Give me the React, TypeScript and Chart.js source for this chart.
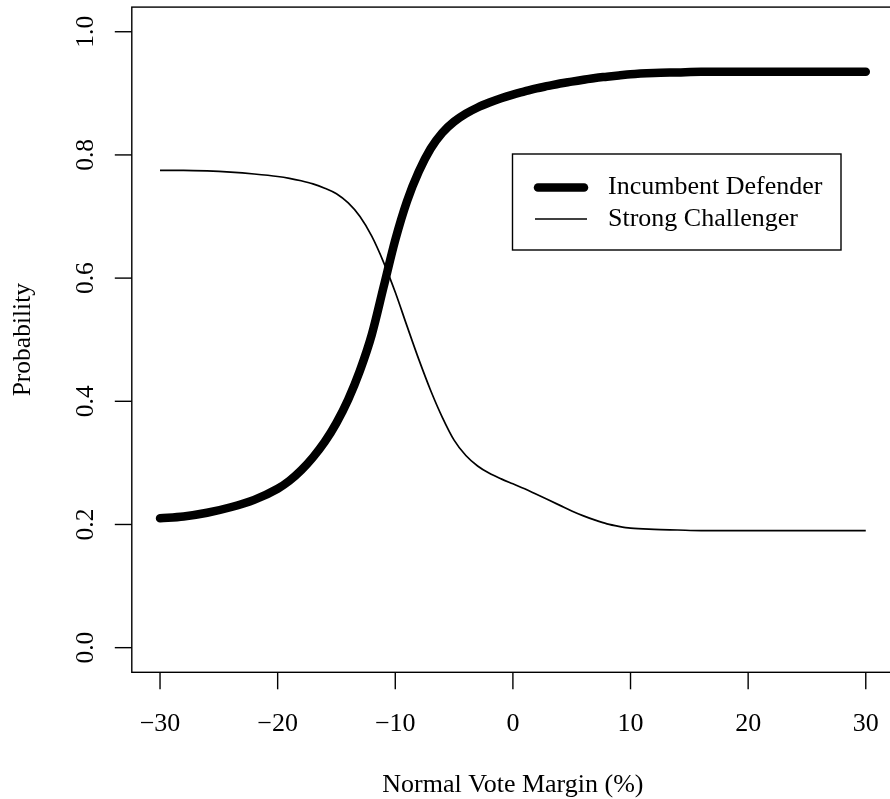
import React, { useEffect, useRef } from "react";
import { Chart, registerables } from "chart.js";

Chart.register(...registerables);

const margins = [-30, -28, -26, -24, -22, -20, -19, -18, -17, -16, -15, -14, -13, -12, -11, -10, -9, -8, -7, -6, -5, -4, -3, -2, -1, 0, 1, 2, 3, 4, 5, 6, 7, 8, 9, 10, 12, 14, 16, 20, 25, 30];

const incumbentDefender = [0.210, 0.213, 0.219, 0.228, 0.240, 0.258, 0.271, 0.288, 0.309, 0.334, 0.365, 0.403, 0.450, 0.508, 0.585, 0.662, 0.725, 0.773, 0.810, 0.836, 0.854, 0.867, 0.877, 0.885, 0.892, 0.898, 0.903, 0.908, 0.912, 0.916, 0.919, 0.922, 0.925, 0.927, 0.929, 0.931, 0.933, 0.934, 0.935, 0.935, 0.935, 0.935];

const strongChallenger = [0.775, 0.775, 0.774, 0.772, 0.769, 0.765, 0.762, 0.758, 0.753, 0.746, 0.737, 0.722, 0.700, 0.668, 0.626, 0.577, 0.522, 0.468, 0.418, 0.374, 0.337, 0.312, 0.295, 0.283, 0.274, 0.266, 0.258, 0.249, 0.240, 0.231, 0.222, 0.214, 0.207, 0.201, 0.197, 0.194, 0.192, 0.191, 0.190, 0.190, 0.190, 0.190];

const xTicks = [-30, -20, -10, 0, 10, 20, 30];
const xTickLabels = ["\u221230", "\u221220", "\u221210", "0", "10", "20", "30"];
const yTicks = [0, 0.2, 0.4, 0.6, 0.8, 1.0];
const yTickLabels = ["0.0", "0.2", "0.4", "0.6", "0.8", "1.0"];

const seriesNames = ["Incumbent Defender", "Strong Challenger"];
const xTitle = "Normal Vote Margin (%)";
const yTitle = "Probability";

const FONT = "25.5px 'Liberation Serif', 'DejaVu Serif', serif";
const SX = 1.02;

function stretchedText(ctx: CanvasRenderingContext2D, text: string, x: number, y: number, rotate: boolean) {
  ctx.save();
  ctx.translate(x, y);
  ctx.scale(SX, 1);
  if (rotate) ctx.rotate(-Math.PI / 2);
  ctx.fillText(text, 0, 0);
  ctx.restore();
}

const rAxesPlugin = {
  id: "rAxes",
  afterDatasetsDraw(chart: any) {
    const ctx: CanvasRenderingContext2D = chart.ctx;
    const area = chart.chartArea;
    const xs = chart.scales.x;
    const ys = chart.scales.y;
    ctx.save();
    ctx.strokeStyle = "#000";
    ctx.fillStyle = "#000";
    ctx.lineWidth = 1.4;
    ctx.lineCap = "butt";
    ctx.strokeRect(area.left, area.top, area.right - area.left, area.bottom - area.top);
    ctx.font = FONT;
    ctx.textAlign = "center";
    ctx.textBaseline = "alphabetic";
    xTicks.forEach((v, i) => {
      const px = xs.getPixelForValue(v);
      ctx.beginPath();
      ctx.moveTo(px, area.bottom);
      ctx.lineTo(px, area.bottom + 17);
      ctx.stroke();
      stretchedText(ctx, xTickLabels[i], px, area.bottom + 59, false);
    });
    ctx.textBaseline = "middle";
    yTicks.forEach((v, i) => {
      const py = ys.getPixelForValue(v);
      ctx.beginPath();
      ctx.moveTo(area.left, py);
      ctx.lineTo(area.left - 17, py);
      ctx.stroke();
      stretchedText(ctx, yTickLabels[i], area.left - 46, py, true);
    });
    ctx.textBaseline = "alphabetic";
    stretchedText(ctx, xTitle, (area.left + area.right) / 2, area.bottom + 120, false);
    stretchedText(ctx, yTitle, 30, (area.top + area.bottom) / 2, true);

    const lx = 512.5, ly = 154, lw = 328.5, lh = 96;
    ctx.lineWidth = 1.4;
    ctx.strokeRect(lx, ly, lw, lh);
    const rows = [187.5, 219];
    const widths = [8.5, 1.7];
    rows.forEach((ry, i) => {
      ctx.beginPath();
      ctx.lineWidth = widths[i];
      ctx.lineCap = i === 0 ? "round" : "butt";
      ctx.moveTo(i === 0 ? 538 : 535, ry);
      ctx.lineTo(i === 0 ? 584 : 587, ry);
      ctx.stroke();
      ctx.textAlign = "left";
      ctx.textBaseline = "middle";
      stretchedText(ctx, seriesNames[i], 608, ry, false);
    });
    ctx.restore();
  },
};

export default function App() {
  const ref = useRef<HTMLCanvasElement>(null);
  useEffect(() => {
    if (!ref.current) return;
    const chart = new Chart(ref.current, {
      type: "line",
      data: {
        datasets: [
          {
            label: seriesNames[0],
            data: margins.map((m, i) => ({ x: m, y: incumbentDefender[i] })),
            borderColor: "#000",
            borderWidth: 8.5,
            borderCapStyle: "round",
            borderJoinStyle: "round",
            pointRadius: 0,
            cubicInterpolationMode: "monotone",
            fill: false,
          },
          {
            label: seriesNames[1],
            data: margins.map((m, i) => ({ x: m, y: strongChallenger[i] })),
            borderColor: "#000",
            borderWidth: 1.7,
            pointRadius: 0,
            cubicInterpolationMode: "monotone",
            fill: false,
          },
        ],
      },
      options: {
        responsive: false,
        animation: false,
        layout: { padding: { left: 131.8, right: 6, top: 7.1, bottom: 126.7 } },
        plugins: { legend: { display: false }, tooltip: { enabled: false } },
        scales: {
          x: { type: "linear", min: -32.4, max: 32.4, display: false },
          y: { type: "linear", min: -0.04, max: 1.04, display: false },
        },
      },
      plugins: [rAxesPlugin],
    });
    return () => chart.destroy();
  }, []);
  return (
    <div style={{ position: "fixed", left: 0, top: 0, width: 890, height: 799, overflow: "hidden", background: "#fff" }}>
      <canvas ref={ref} width={900} height={799} style={{ display: "block" }} />
    </div>
  );
}
